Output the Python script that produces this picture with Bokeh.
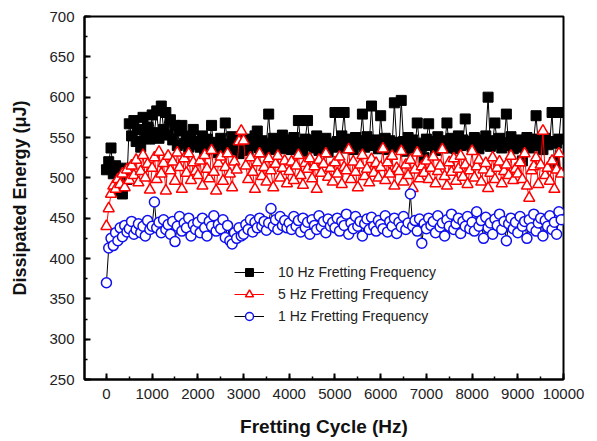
from bokeh.plotting import figure
from bokeh.models import Range1d, Legend, LegendItem, FixedTicker
from bokeh.embed import file_html
from bokeh.resources import INLINE

cycles = list(range(0, 10000, 50))

hz10 = [
    510, 520, 537, 505, 515, 508, 483, 480, 512, 498, 567, 552, 571, 545, 560, 538, 575, 550, 563, 548,
    578, 556, 583, 549, 589, 560, 581, 553, 572, 547, 565, 540, 558, 565, 543, 552, 538, 547, 560, 541,
    545, 538, 552, 533, 548, 540, 565, 536, 544, 531, 549, 539, 568, 542, 535, 551, 537, 546, 530, 543,
    539, 548, 534, 545, 540, 552, 558, 537, 546, 532, 543, 579, 538, 549, 535, 544, 541, 553, 536, 547,
    542, 535, 550, 538, 571, 544, 533, 548, 571, 540, 546, 537, 552, 534, 545, 541, 549, 532, 543, 538,
    581, 545, 539, 552, 581, 537, 548, 543, 535, 550, 541, 546, 579, 538, 551, 543, 589, 540, 547, 536,
    577, 542, 549, 535, 546, 540, 593, 544, 538, 596, 545, 533, 550, 541, 547, 537, 568, 543, 539, 525,
    548, 567, 540, 545, 534, 551, 538, 546, 542, 568, 537, 549, 543, 536, 552, 540, 547, 573, 541, 545,
    538, 550, 543, 536, 547, 541, 552, 600, 539, 546, 568, 542, 549, 537, 544, 579, 540, 551, 536, 545,
    547, 538, 521, 544, 550, 537, 543, 548, 577, 540, 546, 535, 549, 541, 545, 581, 519, 543, 548, 581,
]

hz5 = [
    440, 462, 480, 490, 486, 498, 492, 505, 488, 510, 497, 515, 503, 522, 494, 508, 528, 500, 517, 485,
    512, 525, 498, 532, 505, 518, 484, 527, 509, 520, 496, 531, 513, 486, 524, 506, 530, 497, 519, 508,
    503, 521, 490, 528, 511, 499, 534, 507, 484, 518, 526, 496, 513, 530, 505, 488, 520, 510, 545, 558,
    546, 515, 498, 525, 507, 486, 519, 530, 502, 513, 495, 524, 509, 488, 517, 527, 500, 512, 521, 493,
    508, 520, 497, 515, 528, 503, 491, 518, 511, 524, 499, 514, 486, 522, 506, 517, 530, 501, 512, 495,
    519, 505, 526, 492, 513, 509, 535, 498, 520, 507, 488, 516, 528, 502, 511, 494, 523, 506, 518, 500,
    513, 536, 497, 519, 505, 527, 490, 512, 508, 533, 495, 516, 503, 522, 487, 510, 531, 499, 514, 506,
    521, 498, 512, 526, 493, 508, 515, 535, 502, 490, 519, 507, 524, 496, 511, 527, 501, 516, 492, 509,
    533, 500, 514, 522, 495, 510, 518, 487, 506, 525, 498, 512, 520, 493, 508, 516, 503, 527, 497, 511,
    505, 519, 498, 530, 490, 475, 509, 514, 525, 492, 516, 558, 503, 512, 496, 521, 486, 510, 530, 505,
]

hz1 = [
    370, 413, 425, 416, 432, 422, 438, 427, 441, 433, 437, 446, 430, 436, 443, 432, 440, 428, 447, 436,
    440, 470, 438, 445, 432, 448, 436, 442, 430, 446, 421, 440, 452, 434, 444, 438, 450, 428, 442, 436,
    445, 432, 450, 438, 428, 446, 440, 453, 434, 442, 437, 448, 426, 441, 422, 418, 432, 425, 438, 428,
    430, 442, 436, 448, 433, 445, 438, 450, 440, 446, 435, 444, 462, 440, 448, 436, 452, 441, 447, 438,
    444, 436, 452, 440, 447, 433, 450, 438, 445, 430, 448, 441, 436, 453, 439, 446, 432, 449, 440, 445,
    438, 450, 434, 446, 441, 455, 430, 444, 437, 452, 440, 446, 428, 443, 449, 436, 451, 440, 434, 447,
    442, 437, 453, 433, 446, 440, 450, 431, 445, 439, 452, 436, 444, 480, 440, 447, 434, 449, 419, 443,
    437, 450, 441, 446, 432, 453, 439, 444, 428, 448, 440, 455, 436, 443, 450, 431, 446, 440, 452, 437,
    445, 434, 458, 440, 447, 425, 451, 438, 444, 430, 449, 441, 455, 436, 446, 422, 443, 450, 437, 445,
    432, 452, 440, 446, 425, 448, 438, 455, 434, 444, 450, 428, 447, 440, 453, 436, 445, 430, 458, 448,
]

labels = ["10 Hz Fretting Frequency", "5 Hz Fretting Frequency", "1 Hz Fretting Frequency"]
x_ticks = list(range(0, 10001, 1000))
y_ticks = list(range(250, 701, 50))

FONT = "Liberation Sans"

p = figure(frame_width=479, frame_height=363, x_range=Range1d(-480, 10000), y_range=Range1d(250, 700),
           output_backend="svg", toolbar_location=None,
           min_border_left=84, min_border_right=26, min_border_top=16, min_border_bottom=60)
p.grid.visible = False
p.outline_line_color = "black"
p.outline_line_width = 2
p.background_fill_color = "white"
p.border_fill_color = "white"

# series
l10 = p.line(cycles, hz10, line_color="black", line_width=1)
s10 = p.scatter(cycles, hz10, marker="square", size=10, fill_color="black", line_color="black")
l5 = p.line(cycles, hz5, line_color="red", line_width=1)
s5 = p.scatter(cycles, hz5, marker="triangle", size=11, fill_color="white", line_color="red", line_width=1.5)
l1 = p.line(cycles, hz1, line_color="black", line_width=1)
s1 = p.scatter(cycles, hz1, marker="circle", size=10, fill_color="white", line_color="#1010ee", line_width=1.5)

legend = Legend(items=[LegendItem(label=labels[0], renderers=[l10, s10]),
                       LegendItem(label=labels[1], renderers=[l5, s5]),
                       LegendItem(label=labels[2], renderers=[l1, s1])],
                location=(140, 43), border_line_alpha=0, background_fill_alpha=0,
                glyph_width=30, glyph_height=20, label_height=20, spacing=2,
                label_standoff=14, padding=10,
                label_text_font=FONT, label_text_font_size="14px", label_text_color="#222222")
p.add_layout(legend, "center")

for ax in (p.xaxis[0], p.yaxis[0]):
    ax.axis_line_width = 2
    ax.axis_line_color = "black"
    ax.major_tick_in = 6
    ax.major_tick_out = 0
    ax.minor_tick_in = 3
    ax.minor_tick_out = 0
    ax.major_tick_line_width = 2
    ax.minor_tick_line_width = 1.5
    ax.major_label_text_font = FONT
    ax.major_label_text_font_size = "15px"
    ax.major_label_text_color = "#222222"
    ax.axis_label_text_font = FONT
    ax.axis_label_text_font_style = "bold"
    ax.axis_label_text_color = "#111111"

p.xaxis[0].axis_label_text_font_size = "19px"
p.yaxis[0].axis_label_text_font_size = "18px"
p.xaxis[0].ticker = FixedTicker(ticks=x_ticks, minor_ticks=list(range(-500, 10001, 500)))
p.yaxis[0].ticker = FixedTicker(ticks=y_ticks, minor_ticks=list(range(250, 701, 25)))
p.xaxis[0].axis_label = "Fretting Cycle (Hz)"
p.yaxis[0].axis_label = "Dissipated Energy (μJ)"
p.xaxis[0].major_label_standoff = 9
p.yaxis[0].major_label_standoff = 10
p.xaxis[0].axis_label_standoff = 14
p.yaxis[0].axis_label_standoff = 16

open("out.html", "w").write(file_html(p, INLINE))
